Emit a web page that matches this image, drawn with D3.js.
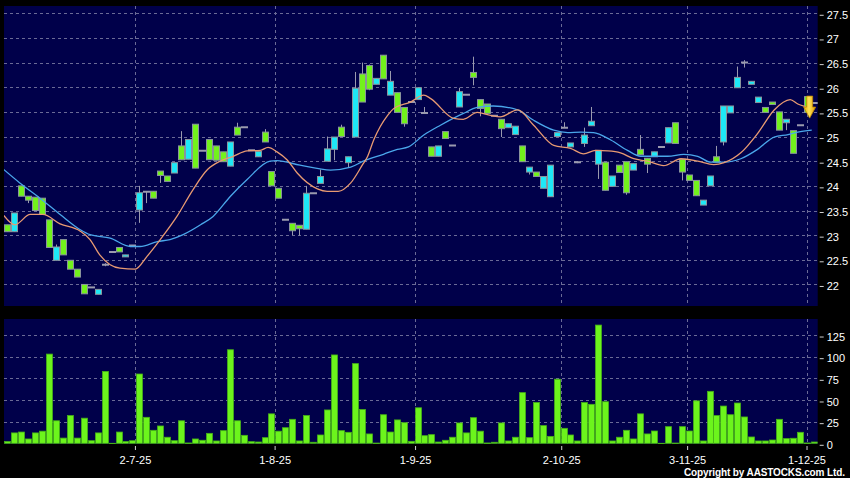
<!DOCTYPE html>
<html><head><meta charset="utf-8">
<script src="https://cdn.jsdelivr.net/npm/d3@7/dist/d3.min.js"></script>
<style>html,body{margin:0;padding:0;background:#000;overflow:hidden}svg{display:block}</style>
</head><body>
<svg id="chart" width="850" height="478"></svg>
<script>
// ---------------- DATA ----------------
const openP = [23.21,23.07,24.00,23.79,23.77,23.75,23.31,22.49,22.91,22.49,22.31,22.00,21.94,21.80,22.40,22.66,22.75,22.56,22.79,23.51,
23.88,23.89,24.30,24.20,24.26,24.81,24.54,25.25,24.71,24.94,24.81,24.69,24.40,25.19,25.19,24.72,24.59,25.09,24.29,23.95,
23.31,23.24,23.20,23.12,23.85,24.05,24.50,24.74,25.19,24.47,24.99,26.27,26.44,26.06,26.65,25.84,25.89,25.59,25.70,25.75,
25.48,24.79,24.60,25.10,24.82,25.60,25.85,26.30,25.75,25.66,25.42,25.35,25.18,25.04,24.81,24.28,24.28,23.95,23.78,25.00,
25.18,24.79,24.48,24.86,25.22,24.44,24.48,23.99,24.42,24.49,24.32,24.74,24.56,24.59,24.79,24.87,25.28,24.54,24.22,24.11,
23.61,24.00,24.59,24.89,25.48,25.99,26.50,26.06,25.69,25.59,25.70,25.50,25.28,25.12,25.23,25.81,25.68];
const highP = [23.21,23.45,24.00,23.79,23.77,23.75,23.31,22.81,22.91,22.49,22.31,22.00,21.94,21.90,22.43,22.66,22.75,22.60,22.79,24.00,
23.88,23.89,24.30,24.20,24.47,25.11,24.94,25.25,24.71,24.94,24.81,24.69,24.89,25.28,25.19,24.72,24.70,25.15,24.29,23.95,
23.31,23.24,23.20,24.00,23.85,24.33,25.00,24.99,25.24,24.59,26.31,26.50,26.46,26.18,26.65,26.33,25.89,25.59,25.70,25.99,
25.60,24.79,24.81,25.10,24.82,25.99,25.85,26.62,25.75,25.66,25.42,25.35,25.26,25.21,24.81,24.38,24.28,24.19,24.42,25.08,
25.29,24.87,24.50,25.18,25.60,24.72,24.48,24.20,24.42,24.49,24.45,25.03,24.56,24.69,24.79,25.18,25.28,24.54,24.22,24.11,
23.71,24.20,24.81,25.62,25.62,26.42,26.55,26.12,25.80,25.59,25.70,25.50,25.35,25.12,25.23,25.81,25.68];
const lowP = [23.07,23.07,23.79,23.65,23.50,23.42,22.75,22.49,22.60,22.31,22.15,21.81,21.94,21.80,22.37,22.66,22.66,22.56,22.79,23.25,
23.65,23.75,24.06,24.09,24.26,24.53,24.54,24.36,24.71,24.53,24.52,24.49,24.40,25.03,25.19,24.72,24.59,24.89,24.00,23.75,
23.31,23.00,22.99,23.12,23.85,24.05,24.50,24.52,25.00,24.38,24.99,25.70,25.94,26.06,26.17,25.84,25.49,25.20,25.70,25.75,
25.48,24.60,24.60,24.96,24.82,25.60,25.85,26.04,25.41,25.47,25.42,24.99,25.18,25.04,24.49,24.23,24.19,23.95,23.78,25.00,
25.18,24.79,24.46,24.79,25.22,24.14,23.91,23.99,24.27,23.82,24.32,24.63,24.26,24.59,24.79,24.87,24.86,24.11,24.11,23.80,
23.61,24.00,24.48,24.82,25.48,25.99,26.40,26.06,25.69,25.49,25.65,25.13,25.13,24.66,25.23,25.49,25.68];
const closeP = [23.07,23.45,23.79,23.71,23.50,23.42,22.75,22.76,22.60,22.31,22.15,21.81,21.94,21.90,22.40,22.66,22.66,22.60,22.79,23.86,
23.88,23.75,24.21,24.09,24.47,24.53,24.94,24.36,24.71,24.53,24.52,24.49,24.89,25.03,25.19,24.72,24.70,24.89,24.00,23.75,
23.31,23.09,23.13,23.85,23.85,24.19,24.75,24.99,25.00,24.59,25.98,25.70,25.96,26.18,26.17,26.12,25.49,25.26,25.70,25.99,
25.48,24.60,24.81,24.96,24.82,25.91,25.85,26.20,25.57,25.47,25.42,25.16,25.26,25.21,24.49,24.38,24.19,24.19,24.42,25.08,
25.18,24.87,24.48,25.03,25.31,24.72,23.91,24.20,24.27,23.86,24.45,24.63,24.44,24.69,24.79,25.18,24.86,24.28,24.11,23.80,
23.71,24.20,24.48,25.62,25.62,26.20,26.50,26.12,25.80,25.49,25.65,25.13,25.35,24.66,25.23,25.49,25.68];
const volume = [2,12,13,5,12,14,103,26,6,32,6,29,3,12,83,0,13,2,3,80,
30,15,20,7,3,26,0.4,5,3.5,11.5,2.7,14.6,108,26,9.2,1.9,1.5,6.5,34,14,
18,27.7,2.7,32,1.2,9.6,38.5,102,14.6,12.7,92,39,10.8,0.3,33,13,27,23.8,2.3,41,
8.8,10,1.5,3.5,7,23.5,12,29.6,14,0.4,1.2,23.5,2.7,7,58.5,6.5,47,20.4,8,74,
17.3,9.6,2.7,47,45,136.5,48,2.7,7,15,5,34,10.8,14.2,0,19.2,0.3,19.2,14.2,49,
2.7,60,32,43,33,46.5,30.4,7.3,2.7,2.7,3.8,27.7,5.4,5.8,12.7,0.4,1.5];

// moving averages (x in bar-index units, y in price)
const maShortIdx = [-0.5,1.1,3.3,5.1,7.6,10.5,11.9,13.3,14.8,16.2,18.4,20.1,22,24.4,26.7,28.8,30.6,32.5,34.5,36.4,
37.5,38.8,40.3,41.7,44.6,46,47.6,49.4,51.1,51.8,52.7,54.7,55.6,58,59.9,60.9,64.2,65.6,67.6,69.5,
70.9,73.4,75.7,78.6,81,82.9,84.6,86.4,88.2,90.1,92.1,94.4,96.9,99.3,101.6,103.1,105.5,107.9,110.3,112.6,
113.7,114.9,116];
const maShortVal = [23.40,23.21,23.42,23.42,23.23,23.08,22.91,22.60,22.40,22.33,22.31,22.57,22.91,23.38,23.92,24.33,24.50,24.60,24.71,24.72,
24.78,24.69,24.52,24.26,23.94,23.89,23.89,24.06,24.43,24.59,24.93,25.43,25.57,25.70,25.84,25.77,25.37,25.35,25.49,25.43,
25.40,25.54,25.23,24.82,24.76,24.65,24.72,24.71,24.67,24.55,24.50,24.41,24.55,24.50,24.43,24.47,24.67,25.06,25.54,25.75,
25.66,25.60,25.55];
const maLongIdx = [-0.5,1.8,4.7,7.6,10.5,11.9,14.8,17.7,19.1,21.6,23.4,25.3,27.8,29.6,32.1,34.5,37.8,38.8,42.1,46.5,
49.4,51.2,54.1,56.1,57.7,59.9,62.3,65.6,67.6,69.9,73.4,75.7,78.6,80.6,82.5,84.3,86.8,89.2,91.1,95,
97.3,99.3,101.2,103.1,105.5,107.9,110.3,112.3,113.7,115.7];
const maLongVal = [24.33,24.06,23.75,23.42,23.11,23.01,22.94,22.77,22.77,22.87,22.91,23.01,23.21,23.38,23.79,24.13,24.50,24.51,24.42,24.32,
24.38,24.50,24.64,24.74,24.79,25.03,25.23,25.47,25.59,25.62,25.54,25.33,25.13,25.08,25.09,25.08,24.93,24.72,24.60,24.60,
24.64,24.60,24.48,24.48,24.55,24.74,24.99,25.04,25.09,25.13];

const priceTicks = [22,22.5,23,23.5,24,24.5,25,25.5,26,26.5,27,27.5];
const volumeTicks = [0,25,50,75,100,125];
const dateTickIdx = [18.36,38.45,58.65,79.67,97.78,114.95];
const dateTickLabels = ["2-7-25","1-8-25","1-9-25","2-10-25","3-11-25","1-12-25"];
const signalIdx = 115.4, signalPrice = 25.82;
const copyright = "Copyright by AASTOCKS.com Ltd.";

// ---------------- DRAWING ----------------
const N = closeP.length;
const svg = d3.select("#chart");
const FONT = "'Liberation Sans', Arial, sans-serif";
const COL = {bg:"#000", plot:"#00004a", grid:"#6a6a96", green:"#72f21c", cyan:"#1ee8f6",
  edge:"#8a949c", wick:"#9a9aae", volFill:"#6cf41c", volEdge:"#46b018", maS:"#e89a72", maL:"#4aa6ea", text:"#ffffff"};

const P = {l:4, r:817.7, t:6, b:306};       // price panel
const V = {l:4, r:817.7, t:319, b:444};     // volume panel

const x = d3.scaleLinear().domain([-0.5, N - 0.5]).range([3.8, 817.3]);
const yP = d3.scaleLinear().domain([21.563, 27.648]).range([P.b, P.t]);
const yV = d3.scaleLinear().domain([0, 143.5]).range([443.3, V.t]);

svg.append("rect").attr("width",850).attr("height",478).attr("fill",COL.bg);
const defs = svg.append("defs");
defs.append("clipPath").attr("id","clipP").append("rect").attr("x",P.l).attr("y",P.t).attr("width",P.r-P.l).attr("height",P.b-P.t);
defs.append("clipPath").attr("id","clipV").append("rect").attr("x",V.l).attr("y",V.t).attr("width",V.r-V.l).attr("height",V.b-V.t);
const grad = defs.append("linearGradient").attr("id","arrowGrad").attr("x1","0").attr("x2","1").attr("y1","0").attr("y2","0");
grad.append("stop").attr("offset","0").attr("stop-color","#e8a800");
grad.append("stop").attr("offset","0.45").attr("stop-color","#ffe45a");
grad.append("stop").attr("offset","1").attr("stop-color","#e09a00");

// panels
svg.append("rect").attr("x",P.l).attr("y",P.t).attr("width",P.r-P.l).attr("height",P.b-P.t).attr("fill",COL.plot);
svg.append("rect").attr("x",V.l).attr("y",V.t).attr("width",V.r-V.l).attr("height",V.b-V.t).attr("fill",COL.plot);

// grids
const gP = svg.append("g").attr("clip-path","url(#clipP)");
gP.selectAll("line.h").data(priceTicks).join("line").attr("class","h")
  .attr("x1",P.l).attr("x2",P.r).attr("y1",d=>Math.round(yP(d))+0.5).attr("y2",d=>Math.round(yP(d))+0.5)
  .attr("stroke",COL.grid).attr("stroke-dasharray","3,3");
gP.selectAll("line.v").data(dateTickIdx).join("line").attr("class","v")
  .attr("x1",d=>Math.round(x(d))+0.5).attr("x2",d=>Math.round(x(d))+0.5).attr("y1",P.t).attr("y2",P.b)
  .attr("stroke",COL.grid).attr("stroke-dasharray","3,3");
const gV = svg.append("g").attr("clip-path","url(#clipV)");
gV.selectAll("line.h").data(volumeTicks.filter(d=>d>0)).join("line").attr("class","h")
  .attr("x1",V.l).attr("x2",V.r).attr("y1",d=>Math.round(yV(d))+0.5).attr("y2",d=>Math.round(yV(d))+0.5)
  .attr("stroke",COL.grid).attr("stroke-dasharray","3,3");
gV.selectAll("line.v").data(dateTickIdx).join("line").attr("class","v")
  .attr("x1",d=>Math.round(x(d))+0.5).attr("x2",d=>Math.round(x(d))+0.5).attr("y1",V.t).attr("y2",V.b)
  .attr("stroke",COL.grid).attr("stroke-dasharray","3,3");

// candles
const idx = d3.range(N);
const bw = 5;
const cg = gP.append("g");
cg.selectAll("line.wick").data(idx.filter(i=>highP[i]>lowP[i])).join("line").attr("class","wick")
  .attr("x1",i=>Math.round(x(i))+0.5).attr("x2",i=>Math.round(x(i))+0.5)
  .attr("y1",i=>yP(highP[i])).attr("y2",i=>yP(lowP[i])).attr("stroke",COL.wick).attr("stroke-width",1);
cg.selectAll("rect.body").data(idx.filter(i=>openP[i]!==closeP[i])).join("rect").attr("class","body")
  .attr("x",i=>Math.round(x(i))-2.5).attr("width",bw+1)
  .attr("y",i=>yP(Math.max(openP[i],closeP[i])))
  .attr("height",i=>Math.max(2, yP(Math.min(openP[i],closeP[i]))-yP(Math.max(openP[i],closeP[i]))))
  .attr("fill",i=>closeP[i]>openP[i]?COL.cyan:COL.green)
  .attr("stroke",COL.edge).attr("stroke-width",1);
cg.selectAll("line.doji").data(idx.filter(i=>openP[i]===closeP[i])).join("line").attr("class","doji")
  .attr("x1",i=>Math.round(x(i))-3).attr("x2",i=>Math.round(x(i))+4)
  .attr("y1",i=>yP(openP[i])).attr("y2",i=>yP(openP[i])).attr("stroke",COL.wick).attr("stroke-width",2);

// moving averages
const lineGen = d3.line().x(d=>x(d[0])).y(d=>yP(d[1])).curve(d3.curveMonotoneX);
gP.append("path").datum(maLongIdx.map((d,i)=>[d,maLongVal[i]])).attr("d",lineGen)
  .attr("fill","none").attr("stroke",COL.maL).attr("stroke-width",1.3);
gP.append("path").datum(maShortIdx.map((d,i)=>[d,maShortVal[i]])).attr("d",lineGen)
  .attr("fill","none").attr("stroke",COL.maS).attr("stroke-width",1.3);

// signal arrow
const ax = x(signalIdx), ay = yP(signalPrice);
svg.append("path")
  .attr("d",`M${ax-3},${ay} L${ax+3},${ay} L${ax+3},${ay+11} L${ax+6},${ay+11} L${ax},${ay+22} L${ax-6},${ay+11} L${ax-3},${ay+11} Z`)
  .attr("fill","url(#arrowGrad)").attr("stroke","#c08a00").attr("stroke-width",0.8);

// volume bars
gV.selectAll("rect.vol").data(idx).join("rect").attr("class","vol")
  .attr("x",i=>Math.round(x(i))-2.5).attr("width",bw+1)
  .attr("y",i=>yV(volume[i])).attr("height",i=>Math.max(0.8, yV(0)-yV(volume[i])))
  .attr("fill",COL.volFill).attr("stroke",COL.volEdge).attr("stroke-width",0.8);

// axes
function styleAxis(g){
  g.select(".domain").remove();
  g.selectAll(".tick line").attr("stroke","#d0d0d0");
  g.selectAll(".tick text").attr("fill",COL.text).attr("font-family",FONT).attr("font-size",11);
}
svg.append("g").attr("transform",`translate(${P.r+2},1.5)`)
  .call(d3.axisRight(yP).tickValues(priceTicks).tickFormat(d3.format("")).tickSize(4).tickPadding(3))
  .call(styleAxis);
svg.append("g").attr("transform",`translate(${V.r+2},1.5)`)
  .call(d3.axisRight(yV).tickValues(volumeTicks).tickFormat(d3.format("")).tickSize(4).tickPadding(3))
  .call(styleAxis);
svg.append("g").attr("transform",`translate(0,${V.b+2})`)
  .call(d3.axisBottom(x).tickValues(dateTickIdx).tickFormat((d,i)=>dateTickLabels[i]).tickSize(4).tickPadding(6))
  .call(styleAxis);

svg.append("text").attr("x",845).attr("y",476).attr("text-anchor","end")
  .attr("fill",COL.text).attr("font-family",FONT).attr("font-size",10).attr("font-weight","bold")
  .attr("textLength",161).attr("lengthAdjust","spacing").text(copyright);
</script>
</body></html>
